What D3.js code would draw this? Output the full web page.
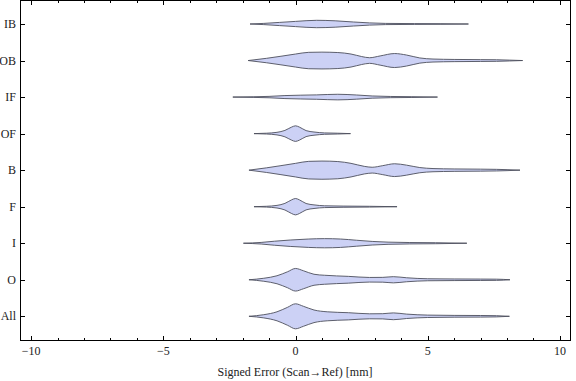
<!DOCTYPE html>
<html><head><meta charset="utf-8">
<script src="https://cdn.jsdelivr.net/npm/d3@7"></script>
<style>body{margin:0;background:#fff}svg{display:block}</style>
</head><body>
<svg id="c" width="576" height="381"></svg>
<script>
const categories = ["IB","OB","IF","OF","B","F","I","O","All"];
const xTicksMajor = [-10,-5,0,5,10];
const xTickLabels = ["\u221210","\u22125","0","5","10"];
const xTicksMinor = [-9,-8,-7,-6,-4,-3,-2,-1,1,2,3,4,6,7,8,9];
const xLabel = "Signed Error (Scan\u2192Ref) [mm]";

// violin profiles: [signed error, relative density]
const densIB = [[-1.72,0],[-1.2,0.6],[-0.6,1.6],[0,2.6],[0.8,3.7],[1.5,3.2],[2.2,2.0],[2.8,1.1],[3.4,0.6],[4.5,0.4],[5.5,0.3],[6.54,0]];
const densOB = [[-1.79,0],[-1.1,2.2],[-0.55,4.3],[0,6.5],[0.5,8.2],[1.0,8.4],[1.6,8.0],[2.1,6.5],[2.5,4.0],[2.8,2.8],[3.2,4.6],[3.75,7.0],[4.2,5.5],[4.7,2.6],[5.2,1.5],[6,1.1],[7,0.9],[7.6,0.8],[8.1,0.4],[8.59,0]];
const densIF = [[-2.37,0],[-1.6,0.3],[-1.0,0.7],[-0.4,1.5],[0.2,1.9],[0.8,2.2],[1.6,2.8],[2.3,2.1],[2.9,1.1],[3.6,0.6],[4.4,0.4],[5.37,0]];
const densOF = [[-1.57,0],[-1.1,0.4],[-0.7,1.3],[-0.4,3.2],[-0.15,6.5],[0,7.8],[0.15,6.5],[0.4,3.0],[0.7,1.6],[1.1,0.7],[1.6,0.4],[2.08,0]];
const densB = [[-1.76,0],[-1.1,2.3],[-0.55,4.5],[0,6.8],[0.5,8.8],[1.0,9.1],[1.6,8.6],[2.1,6.8],[2.6,3.8],[2.9,2.9],[3.3,4.5],[3.75,6.4],[4.2,5.0],[4.7,2.6],[5.2,1.6],[6,1.2],[7,1.0],[7.6,0.8],[8.0,0.5],[8.49,0]];
const densF = [[-1.57,0],[-1.1,0.4],[-0.7,1.3],[-0.4,3.3],[-0.15,6.8],[0,8.2],[0.15,6.8],[0.4,3.2],[0.7,1.8],[1.1,0.9],[1.8,0.6],[2.8,0.4],[3.84,0]];
const densI = [[-1.97,0],[-1.3,0.8],[-0.8,2.0],[-0.2,3.2],[0.5,4.2],[1.1,4.6],[1.7,4.2],[2.3,3.0],[2.9,1.8],[3.5,1.1],[4.3,0.7],[5.3,0.5],[6.48,0]];
const densO = [[-1.76,0],[-1.2,1.5],[-0.7,4.0],[-0.3,8.0],[0,11.3],[0.3,9.0],[0.7,5.5],[1.1,4.5],[2.0,3.4],[2.8,2.3],[3.3,2.4],[3.7,3.1],[4.2,2.0],[5,1.0],[6,0.8],[7,0.7],[7.6,0.6],[8.11,0]];
const densAll = [[-1.76,0],[-1.2,1.6],[-0.7,4.5],[-0.3,9.0],[0,12.5],[0.3,10.0],[0.7,6.3],[1.2,4.5],[2.0,3.6],[2.8,2.5],[3.3,2.6],[3.7,3.4],[4.2,2.2],[5,1.2],[6,0.9],[7,0.8],[7.6,0.6],[8.09,0]];
const profiles = [densIB,densOB,densIF,densOF,densB,densF,densI,densO,densAll];

const svg = d3.select("#c");
const L=20.5,R=570.5,T=0.5,B=340.5;
const x = d3.scaleLinear().domain([-10.4,10.4]).range([L,R]);
const y = d3.scalePoint().domain(categories).range([24,316.3]);
const w = d3.scaleLinear().domain([0,12.5]).range([0,12.5]);
const font = "Liberation Serif, Times New Roman, serif";

const area = d3.area()
  .x(d=>x(d[0]))
  .curve(d3.curveMonotoneX);

categories.forEach((c,i)=>{
  const yc = y(c);
  svg.append("path")
    .datum(profiles[i])
    .attr("d", area.y0(d=>yc - w(d[1])).y1(d=>yc + w(d[1])))
    .attr("fill","#ccd1f5")
    .attr("stroke","#4d4f5c")
    .attr("stroke-width",0.9)
    .attr("stroke-linejoin","round");
});

// frame
svg.append("rect").attr("x",L).attr("y",T).attr("width",R-L).attr("height",B-T)
  .attr("fill","none").attr("stroke","#000").attr("stroke-width",1);

const g = svg.append("g").attr("stroke","#000").attr("stroke-width",1);
xTicksMajor.forEach(v=>{
  const px = Math.round(x(v))+0.5;
  g.append("line").attr("x1",px).attr("x2",px).attr("y1",B).attr("y2",B-4.5);
  g.append("line").attr("x1",px).attr("x2",px).attr("y1",T).attr("y2",T+4.5);
});
xTicksMinor.forEach(v=>{
  const px = Math.round(x(v))+0.5;
  g.append("line").attr("x1",px).attr("x2",px).attr("y1",B).attr("y2",B-2.5);
  g.append("line").attr("x1",px).attr("x2",px).attr("y1",T).attr("y2",T+2.5);
});
categories.forEach(c=>{
  const py = Math.round(y(c))+0.5;
  g.append("line").attr("x1",L).attr("x2",L+4.5).attr("y1",py).attr("y2",py);
  g.append("line").attr("x1",R).attr("x2",R-4.5).attr("y1",py).attr("y2",py);
});

xTicksMajor.forEach((v,i)=>{
  svg.append("text").attr("x",x(v)).attr("y",355).attr("text-anchor","middle")
    .attr("font-family",font).attr("font-size",12).attr("fill","#222").text(xTickLabels[i]);
});
categories.forEach(c=>{
  svg.append("text").attr("x",16).attr("y",y(c)+4).attr("text-anchor","end")
    .attr("font-family",font).attr("font-size",12).attr("fill","#222").text(c);
});
svg.append("text").attr("x",295).attr("y",376).attr("text-anchor","middle")
  .attr("font-family",font).attr("font-size",12).attr("fill","#222").text(xLabel);
</script>
</body></html>
